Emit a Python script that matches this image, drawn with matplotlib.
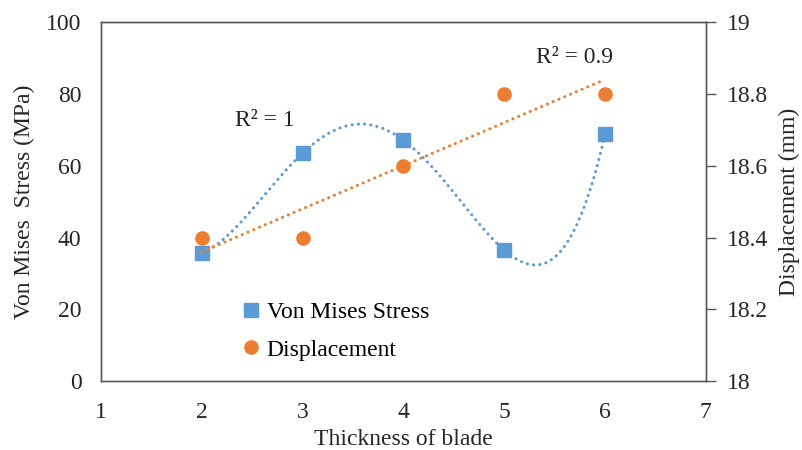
import numpy as np
import matplotlib
matplotlib.use("Agg")
import matplotlib.pyplot as plt

plt.rcParams['font.family'] = ['Liberation Serif', 'DejaVu Serif']

thickness = [2, 3, 4, 5, 6]
stress = [35.8, 63.5, 67.1, 36.5, 68.7]
displacement = [18.4, 18.4, 18.6, 18.8, 18.8]

blue = '#5B9BD5'
orange = '#ED7D31'
fs = 17
tc = '#262626'

fig = plt.figure(figsize=(8.02, 4.5), dpi=100)
ax = fig.add_axes([0.126, 0.153, 0.754, 0.798])
ax2 = ax.twinx()

x = np.array(thickness, dtype=float)
xs = np.linspace(x.min(), x.max(), 400)
p4 = np.polyfit(x, stress, 4)
p1 = np.polyfit(x, displacement, 1)

dot = (0, (0.05, 2.0))
ax.plot(xs, np.polyval(p4, xs), color=blue, lw=2.2, linestyle=dot, dash_capstyle='round', zorder=2)
h1, = ax.plot(thickness, stress, 's', color=blue, markersize=9.5, label='Von Mises Stress', zorder=3)
ax2.plot(xs, np.polyval(p1, xs), color=orange, lw=2.2, linestyle=dot, dash_capstyle='round', zorder=2)
h2, = ax2.plot(thickness, displacement, 'o', color=orange, markersize=9.5, label='Displacement', zorder=3)

ax.set_xlim(1, 7)
ax.set_ylim(0, 100)
ax2.set_ylim(18, 19)
ax.set_xticks(range(1, 8))
ax.set_yticks(range(0, 101, 20))
ax2.set_yticks([18, 18.2, 18.4, 18.6, 18.8, 19])
ax2.set_yticklabels(['18', '18.2', '18.4', '18.6', '18.8', '19'])

for a in (ax, ax2):
    for s in a.spines.values():
        s.set_color('#595959')
        s.set_linewidth(1)
ax.tick_params(axis='y', length=0, labelsize=fs, pad=14, colors=tc)
ax.tick_params(axis='x', length=0, labelsize=fs, pad=15, colors=tc)
ax2.tick_params(axis='y', length=7, width=1, color='#595959', labelsize=fs, pad=8, labelcolor=tc)

ax.set_xlabel('Thickness of blade', fontsize=fs, color=tc, labelpad=4)
ax.set_ylabel('Von Mises  Stress (MPa)', fontsize=fs, color=tc, labelpad=8)
ax2.set_ylabel('Displacement (mm)', fontsize=fs, color=tc, labelpad=8)

ax.text(2.33, 72.7, 'R² = 1', fontsize=fs, color=tc, va='center')
ax2.text(5.32, 18.9025, 'R² = 0.9', fontsize=fs, color=tc, va='center')

fig.legend([h1, h2], ['Von Mises Stress', 'Displacement'], loc='upper left',
           bbox_to_anchor=(0.272, 0.377), frameon=False, fontsize=fs,
           handletextpad=0.15, labelspacing=0.68, handlelength=1.0)

fig.savefig('out.png', dpi=100)
